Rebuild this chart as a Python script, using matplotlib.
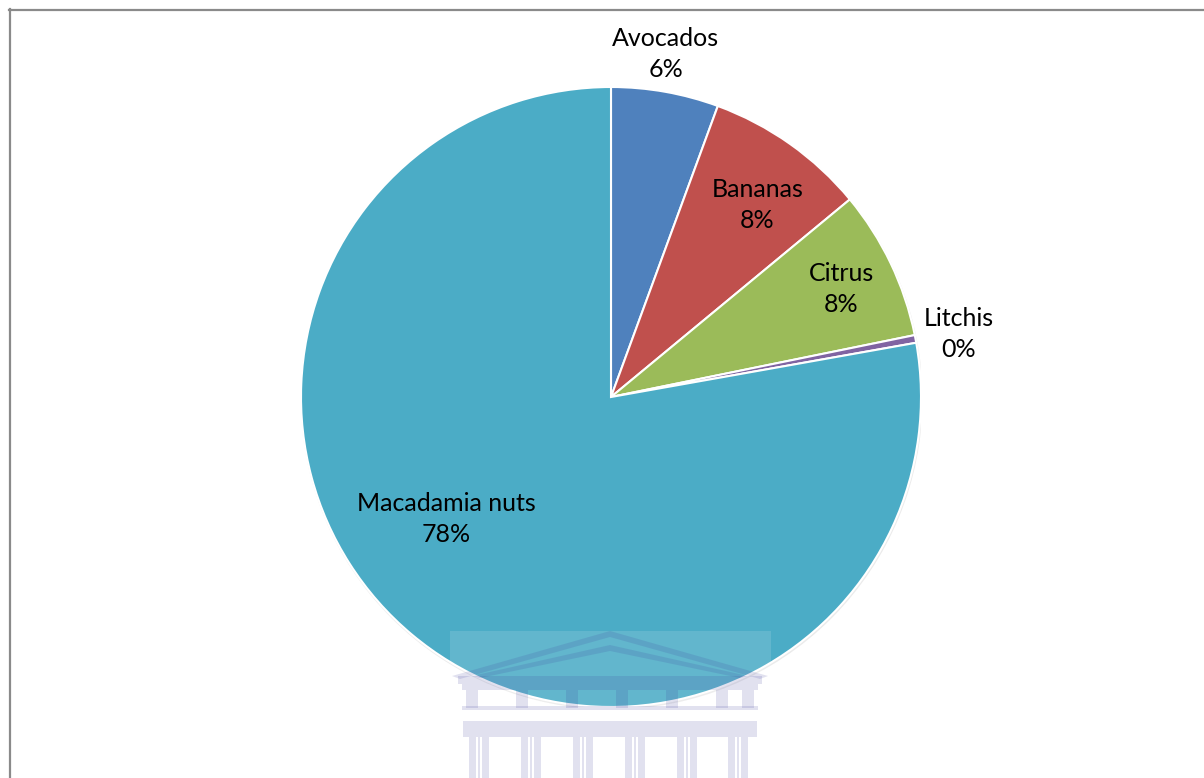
import matplotlib
matplotlib.use("Agg")
import matplotlib.pyplot as plt
from matplotlib.patches import Rectangle, Polygon, Circle
from matplotlib.lines import Line2D
import numpy as np

categories = ["Avocados", "Bananas", "Citrus", "Litchis", "Macadamia nuts"]
values = [5.6, 8.4, 7.8, 0.4, 77.8]
colors = ["#4f81bd", "#c0504d", "#9bbb59", "#8064a2", "#4bacc6"]

# label placement style (radius fraction, angle tweak in degrees)
label_r = [1.12, 0.78, 0.82, 1.14, 0.66]
label_dang = [1.0, -2.0, -0.5, -0.5, -13.5]

W, H = 1204, 778
fig = plt.figure(figsize=(W / 100, H / 100), dpi=100)
fig.patch.set_facecolor("white")

def fx(x):
    return x / W

def fy(y):
    return 1 - y / H

# pie axes
cx, cy, R = 611, 397, 310
ax = fig.add_axes([fx(cx - R), fy(cy + R), 2 * R / W, 2 * R / H])
ax.set_xlim(-1, 1)
ax.set_ylim(-1, 1)
ax.set_aspect("equal")
ax.axis("off")

# subtle shadow
ax.add_patch(Circle((0.002, -0.005), 1.003, color="#b0b0b0", alpha=0.25, zorder=0, lw=0))

wedges, _ = ax.pie(values, colors=colors, startangle=90, counterclock=False, radius=1,
                   wedgeprops=dict(edgecolor="white", linewidth=1.5))
for w in wedges:
    w.set_zorder(1)
ax.set_xlim(-1, 1)
ax.set_ylim(-1, 1)

total = sum(values)
for w, name, v, r, da in zip(wedges, categories, values, label_r, label_dang):
    mid = (w.theta1 + w.theta2) / 2 + da
    x = r * np.cos(np.radians(mid))
    y = r * np.sin(np.radians(mid))
    ax.text(x, y, f"{name}\n{round(v / total * 100):.0f}%", ha="center", va="center",
            fontsize=18, family=["Lato", "DejaVu Sans"], color="black", linespacing=1.42, zorder=5)

# frame border (top and left visible)
fig.add_artist(Line2D([fx(9), fx(W + 5)], [fy(10), fy(10)], color="#8a8a8a", lw=1.6, transform=fig.transFigure))
fig.add_artist(Line2D([fx(10), fx(10)], [fy(9), fy(H + 5)], color="#8a8a8a", lw=1.6, transform=fig.transFigure))

# faint watermark (building)
lav = "#3c3c9a"
a = 0.15

def prect(x0, y0, x1, y1, color=lav, alpha=a):
    fig.add_artist(Rectangle((fx(x0), fy(y1)), fx(x1) - fx(x0), fy(y0) - fy(y1),
                             transform=fig.transFigure, color=color, alpha=alpha, lw=0, zorder=10))

def ppoly(pts, color=lav, alpha=a):
    fig.add_artist(Polygon([(fx(x), fy(y)) for x, y in pts], closed=True,
                           transform=fig.transFigure, color=color, alpha=alpha, lw=0, zorder=10))

# translucent white panel
prect(450, 631, 771, 708, color="white", alpha=0.13)
# pediment stripes
ppoly([(610, 631), (768, 676), (760, 679), (610, 637), (460, 679), (452, 676)])
ppoly([(610, 645), (748, 676), (740, 678), (610, 651), (480, 678), (472, 676)])
# cornice
prect(458, 676, 762, 684)
# frieze with triglyphs
prect(462, 684, 758, 690)
for xc in [472, 522, 572, 622, 672, 722, 748]:
    prect(xc - 6, 690, xc + 6, 708)
prect(462, 706, 758, 710)
# abacus band
prect(463, 721, 757, 737)
# columns
for xc in [479, 531, 583, 635, 687, 738]:
    prect(xc - 10, 737, xc - 3, 778)
    prect(xc - 1, 737, xc + 1, 778)
    prect(xc + 3, 737, xc + 10, 778)

fig.savefig("out.png", dpi=100, facecolor="white")
